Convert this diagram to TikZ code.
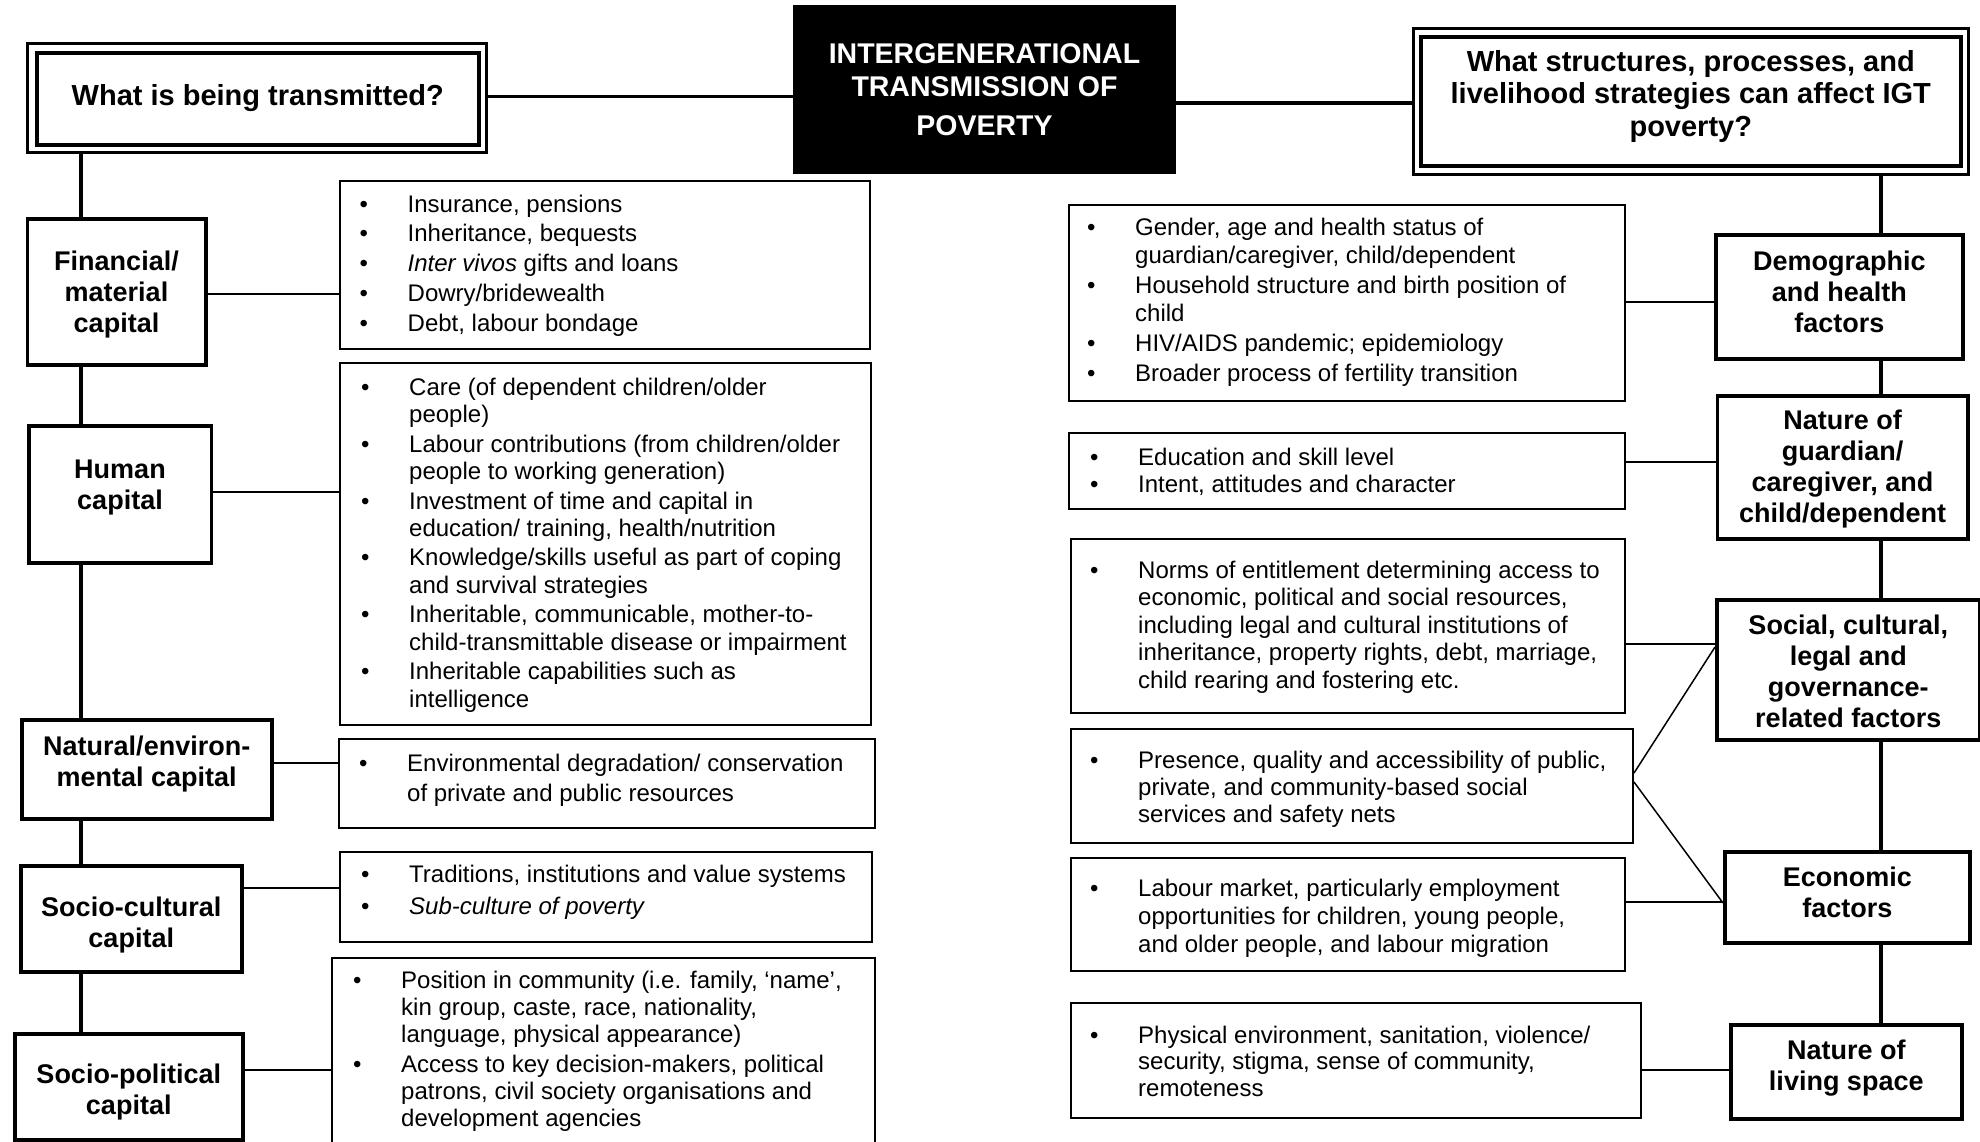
\documentclass[tikz,border=0pt]{standalone}
\usepackage{fontspec}
\setmainfont{Liberation Sans}
\newlength\hangw
\setlength\hangw{48pt}
\newcommand\bu{\makebox[\hangw][l]{\textbullet}}
\newcommand\ct{\hspace*{\hangw}}
\newcommand\fs{\rule{0pt}{20pt}}
\begin{document}
\begin{tikzpicture}[x=1pt,y=-1pt,
  lab/.style={draw, line width=3.5pt, inner sep=0pt, anchor=north west},
  labt/.style={align=center, inner sep=0pt, font=\fontsize{27}{31}\selectfont\bfseries},
  hbox/.style={draw, line width=3pt, inner sep=0pt, anchor=north west},
  ibox/.style={draw, line width=2pt, inner sep=0pt, anchor=north west},
  itxt/.style={anchor=north west, align=left, inner sep=0pt, font=\fontsize{24}{#1}\selectfont},
  spine/.style={line width=3.5pt},
  conn/.style={line width=2pt},
  diag/.style={line width=1.5pt},
]
\fill[white] (0,0) rectangle (1980,1141);
\useasboundingbox (0,0) rectangle (1980,1141);

% ---------- headers ----------
\node[hbox, minimum width=459pt, minimum height=109pt] (hl) at (26,42) {};
\node[lab, minimum width=442pt, minimum height=92pt] (hli) at (35,51) {};
\node[labt, font=\fontsize{29}{33}\selectfont\bfseries] (hliT) at ([yshift=1pt]hli.center) {What is being transmitted?};
\node[lab, fill=black, line width=1pt, minimum width=382pt, minimum height=168pt] (tt) at (793,5) {};
\node[labt, text=white, font=\fontsize{28.5}{33.4}\selectfont\bfseries] (ttT) at (tt.center)
  {INTERGENERATIONAL\\TRANSMISSION OF\\[5pt]POVERTY};
\node[hbox, minimum width=555pt, minimum height=146pt] (hr) at (1412,27) {};
\node[lab, minimum width=540pt, minimum height=129pt] (hri) at (1419,35) {};
\node[labt, font=\fontsize{29}{32.5}\selectfont\bfseries] (hriT) at ([yshift=5pt]hri.center)
  {What structures, processes, and\\livelihood strategies can affect IGT\\poverty?};

\draw[spine] (hl.east |- 0,96.5) -- (tt.west |- 0,96.5);
\draw[spine] (tt.east |- 0,103) -- (hr.west |- 0,103);

% ---------- left labels ----------
\node[lab, minimum width=178.5pt, minimum height=146pt] (fin) at (25.5,217) {};
\node[labt] (finT0) at ([yshift=-3pt]fin.center) {Financial/\\material\\capital};
\node[lab, minimum width=182.5pt, minimum height=137pt] (hum) at (27,424) {};
\node[labt] (humT0) at ([yshift=7pt]hum.center) {Human\\capital};
\node[lab, minimum width=250pt, minimum height=99pt] (nat) at (20,718) {};
\node[labt] (natT0) at ([yshift=5pt]nat.center) {Natural/environ-\\mental capital};
\node[lab, minimum width=221pt, minimum height=106pt] (scu) at (19,864) {};
\node[labt] (scuT0) at ([yshift=-6pt]scu.center) {Socio-cultural\\capital};
\node[lab, minimum width=228pt, minimum height=106pt] (spo) at (13,1032) {};
\node[labt] (spoT0) at ([yshift=-5pt]spo.center) {Socio-political\\capital};

\coordinate (sl) at (81,0);
\draw[spine] (hl.south -| sl) -- (fin.north -| sl);
\draw[spine] (fin.south -| sl) -- (hum.north -| sl);
\draw[spine] (hum.south -| sl) -- (nat.north -| sl);
\draw[spine] (nat.south -| sl) -- (scu.north -| sl);
\draw[spine] (scu.south -| sl) -- (spo.north -| sl);

% ---------- left item boxes ----------
\node[ibox, minimum width=530pt, minimum height=168pt] (finI) at (339,180) {};
\node[itxt=29.75] (finT) at (359.5,192) {\fs\bu Insurance, pensions\\\bu Inheritance, bequests\\\bu \textit{Inter vivos} gifts and loans\\\bu Dowry/bridewealth\\\bu Debt, labour bondage};

\node[ibox, minimum width=531pt, minimum height=362pt] (humI) at (339,362) {};
\node[itxt=27.3] (humT) at (361,375) {\fs\bu Care (of dependent children/older\\\ct people)\\[2.3pt]
\bu Labour contributions (from children/older\\\ct people to working generation)\\[2.3pt]
\bu Investment of time and capital in\\\ct education/ training, health/nutrition\\[2.3pt]
\bu Knowledge/skills useful as part of coping\\\ct and survival strategies\\[2.3pt]
\bu Inheritable, communicable, mother-to-\\\ct child-transmittable disease or impairment\\[2.3pt]
\bu Inheritable capabilities such as\\\ct intelligence};

\node[ibox, minimum width=536.5pt, minimum height=89pt] (natI) at (337.5,738) {};
\node[itxt=30] (natT) at (359,751) {\fs\bu Environmental degradation/ conservation\\\ct of private and public resources};

\node[ibox, minimum width=532pt, minimum height=90pt] (scuI) at (339,851) {};
\node[itxt=32] (scuT) at (361,862) {\fs\bu Traditions, institutions and value systems\\\bu \textit{Sub-culture of poverty}};

\node[ibox, minimum width=543pt, minimum height=200pt] (spoI) at (331,957) {};
\node[itxt=27] (spoT) at (353,968) {\fs\bu Position in community (i.e. family, ‘name’,\\\ct kin group, caste, race, nationality,\\\ct language, physical appearance)\\[3pt]
\bu Access to key decision-makers, political\\\ct patrons, civil society organisations and\\\ct development agencies};

\draw[conn] (fin.east |- 0,294) -- (finI.west |- 0,294);
\draw[conn] (hum.east |- 0,492) -- (humI.west |- 0,492);
\draw[conn] (nat.east |- 0,763) -- (natI.west |- 0,763);
\draw[conn] (scu.east |- 0,888) -- (scuI.west |- 0,888);
\draw[conn] (spo.east |- 0,1070) -- (spoI.west |- 0,1070);

% ---------- right labels ----------
\node[lab, minimum width=247pt, minimum height=124pt] (dem) at (1714,233) {};
\node[labt] (demT0) at ([yshift=5pt]dem.center) {Demographic\\and health\\factors};
\node[lab, minimum width=250.5pt, minimum height=143pt] (gua) at (1715.5,394) {};
\node[labt] (guaT0) at ([yshift=-2pt]gua.center) {Nature of\\guardian/\\caregiver, and\\child/dependent};
\node[lab, minimum width=263pt, minimum height=140pt] (soc) at (1715,598) {};
\node[labt] (socT0) at ([yshift=-2pt]soc.center) {Social, cultural,\\legal and\\governance-\\related factors};
\node[lab, minimum width=245pt, minimum height=91pt] (eco) at (1723,850) {};
\node[labt] (ecoT0) at ([yshift=5pt]eco.center) {Economic\\factors};
\node[lab, minimum width=231pt, minimum height=94pt] (liv) at (1729,1023) {};
\node[labt] (livT0) at ([yshift=4pt]liv.center) {Nature of\\living space};

\coordinate (sr) at (1881,0);
\draw[spine] (hr.south -| sr) -- (dem.north -| sr);
\draw[spine] (dem.south -| sr) -- (gua.north -| sr);
\draw[spine] (gua.south -| sr) -- (soc.north -| sr);
\draw[spine] (soc.south -| sr) -- (eco.north -| sr);
\draw[spine] (eco.south -| sr) -- (liv.north -| sr);

% ---------- right item boxes ----------
\node[ibox, minimum width=556.5pt, minimum height=196pt] (demI) at (1067.5,204) {};
\node[itxt=28.3] (demT) at (1087,215) {\fs\bu Gender, age and health status of\\\ct guardian/caregiver, child/dependent\\[1.5pt]
\bu Household structure and birth position of\\\ct child\\[1.5pt]
\bu HIV/AIDS pandemic; epidemiology\\[1.5pt]
\bu Broader process of fertility transition};

\node[ibox, minimum width=556pt, minimum height=76pt] (eduI) at (1068,432) {};
\node[itxt=27] (eduT) at (1090,445) {\fs\bu Education and skill level\\\bu Intent, attitudes and character};

\node[ibox, minimum width=554.5pt, minimum height=174pt] (norI) at (1069.5,538) {};
\node[itxt=27.5] (norT) at (1090,558) {\fs\bu Norms of entitlement determining access to\\\ct economic, political and social resources,\\\ct including legal and cultural institutions of\\\ct inheritance, property rights, debt, marriage,\\\ct child rearing and fostering etc.};

\node[ibox, minimum width=562.5pt, minimum height=114pt] (preI) at (1069.5,728) {};
\node[itxt=27] (preT) at (1090,748) {\fs\bu Presence, quality and accessibility of public,\\\ct private, and community-based social\\\ct services and safety nets};

\node[ibox, minimum width=554pt, minimum height=113pt] (labI) at (1069.5,857) {};
\node[itxt=28] (labT) at (1090,876) {\fs\bu Labour market, particularly employment\\\ct opportunities for children, young people,\\\ct and older people, and labour migration};

\node[ibox, minimum width=570.5pt, minimum height=115pt] (phyI) at (1069.5,1002) {};
\node[itxt=26.5] (phyT) at (1090,1023) {\fs\bu Physical environment, sanitation, violence/\\\ct security, stigma, sense of community,\\\ct remoteness};

\draw[conn] (demI.east |- 0,302) -- (dem.west |- 0,302);
\draw[conn] (eduI.east |- 0,462) -- (gua.west |- 0,462);
\draw[conn] (norI.east |- 0,644) -- (soc.west |- 0,644);
\draw[conn] (labI.east |- 0,902) -- (eco.west |- 0,902);
\draw[conn] (phyI.east |- 0,1070) -- (liv.west |- 0,1070);
\draw[diag] (preI.east |- 0,773) -- (soc.west |- 0,647);
\draw[diag] (preI.east |- 0,782) -- (eco.west |- 0,903);
\end{tikzpicture}
\end{document}
